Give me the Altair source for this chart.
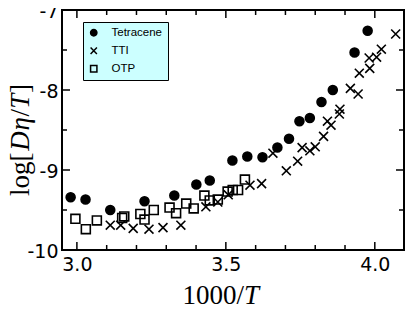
import altair as alt
import pandas as pd

# ---- data ----
series_names = ["Tetracene", "TTI", "OTP"]

tet_x = [2.979, 3.029, 3.112, 3.227, 3.327, 3.401, 3.446, 3.522, 3.572, 3.623,
         3.673, 3.712, 3.747, 3.782, 3.821, 3.859, 3.932, 3.976]
tet_y = [-9.34, -9.37, -9.50, -9.39, -9.32, -9.18, -9.13, -8.88, -8.83, -8.84,
         -8.72, -8.61, -8.39, -8.35, -8.15, -8.00, -7.53, -7.26]

tti_x = [3.112, 3.147, 3.189, 3.242, 3.289, 3.349, 3.433, 3.473, 3.508, 3.581,
         3.620, 3.658, 3.703, 3.741, 3.756, 3.782, 3.800, 3.828, 3.841, 3.853,
         3.881, 3.883, 3.918, 3.944, 3.948, 3.981, 3.983, 4.006, 4.022, 4.070]
tti_y = [-9.69, -9.69, -9.73, -9.74, -9.72, -9.69, -9.46, -9.40, -9.31, -9.19,
         -9.17, -8.79, -9.01, -8.89, -8.72, -8.76, -8.71, -8.58, -8.39, -8.44,
         -8.30, -8.24, -7.98, -8.05, -7.79, -7.60, -7.73, -7.59, -7.49, -7.30]

otp_x = [2.995, 3.030, 3.067, 3.152, 3.159, 3.213, 3.227, 3.258, 3.311, 3.333,
         3.367, 3.392, 3.428, 3.446, 3.473, 3.506, 3.523, 3.541, 3.564]
otp_y = [-9.61, -9.74, -9.63, -9.60, -9.58, -9.55, -9.62, -9.50, -9.47, -9.54,
         -9.42, -9.48, -9.32, -9.38, -9.37, -9.27, -9.25, -9.25, -9.12]

x_major = [3.0, 3.5, 4.0]
x_minor = [3.1, 3.2, 3.3, 3.4, 3.6, 3.7, 3.8, 3.9]
y_major = [-10, -9, -8, -7]
y_minor = [-9.5, -8.5, -7.5]

x_domain = [2.95, 4.098]
y_domain = [-10, -7]

x_title = ["1000/", "T"]
y_title = ["log[", "D", "\u03b7", "/", "T", "]"]

# ---- build table ----
df = pd.concat([
    pd.DataFrame({"x": tet_x, "y": tet_y, "series": "Tetracene"}),
    pd.DataFrame({"x": tti_x, "y": tti_y, "series": "TTI"}),
    pd.DataFrame({"x": otp_x, "y": otp_y, "series": "OTP"}),
], ignore_index=True)

W, H = 342, 240
xs = alt.Scale(domain=x_domain, nice=False, zero=False)
ys = alt.Scale(domain=y_domain, nice=False, zero=False)

xaxis = alt.Axis(values=x_major, format=".1f", ticks=False, domain=False, grid=False,
                 labelFont="DejaVu Sans", labelFontSize=19, labelColor="black",
                 labelPadding=5, title=None)
yaxis = alt.Axis(values=y_major, labelExpr="'' + datum.value", ticks=False, domain=False,
                 grid=False, labelFont="DejaVu Sans", labelFontSize=19,
                 labelColor="black", labelPadding=4, labelOffset=1.5, title=None)

legend = alt.Legend(orient="none", legendX=21, legendY=12, fillColor="#ccffff",
                    strokeColor="black", padding=5, labelFont="Liberation Sans",
                    labelFontSize=11.5, labelColor="black", symbolSize=40,
                    symbolStrokeWidth=1.5, rowPadding=5, labelOffset=12, title=None)

points = alt.Chart(df).mark_point(strokeWidth=1.6, opacity=1, size=80).encode(
    x=alt.X("x:Q", scale=xs, axis=xaxis),
    y=alt.Y("y:Q", scale=ys, axis=yaxis),
    shape=alt.Shape("series:N", sort=series_names,
                    scale=alt.Scale(domain=series_names,
                                    range=["circle", "M-1,-1L1,1M-1,1L1,-1", "square"]),
                    legend=legend),
    fill=alt.Fill("series:N", sort=series_names,
                  scale=alt.Scale(domain=series_names,
                                  range=["black", "transparent", "transparent"]),
                  legend=legend),
    stroke=alt.Stroke("series:N", sort=series_names,
                      scale=alt.Scale(domain=series_names,
                                      range=["black", "black", "black"]),
                      legend=legend),
)

def tick_layer(vals, side, length):
    d = pd.DataFrame({"v": vals})
    base = alt.Chart(d).mark_rule(color="black", strokeWidth=1.5)
    if side in ("bottom", "top"):
        xe = alt.X("v:Q", scale=xs, axis=xaxis)
        if side == "bottom":
            return base.encode(x=xe, y=alt.value(H), y2=alt.value(H - length))
        return base.encode(x=xe, y=alt.value(0), y2=alt.value(length))
    ye = alt.Y("v:Q", scale=ys, axis=yaxis)
    if side == "left":
        return base.encode(y=ye, x=alt.value(0), x2=alt.value(length))
    return base.encode(y=ye, x=alt.value(W), x2=alt.value(W - length))

ticks = []
for side in ("bottom", "top"):
    ticks.append(tick_layer(x_major, side, 8))
    ticks.append(tick_layer(x_minor, side, 5))
for side in ("left", "right"):
    ticks.append(tick_layer(y_major, side, 8))
    ticks.append(tick_layer(y_minor, side, 5))

one = pd.DataFrame({"a": [0]})
serif = "Liberation Serif"

# x title: "1000/" roman + "T" italic
xt1 = alt.Chart(one).mark_text(text=x_title[0], font=serif, fontSize=27, align="right",
                               baseline="alphabetic", color="black").encode(
    x=alt.value(182), y=alt.value(294))
xt2 = alt.Chart(one).mark_text(text=x_title[1], font=serif, fontSize=27, align="left",
                               fontStyle="italic", baseline="alphabetic", color="black").encode(
    x=alt.value(182), y=alt.value(294))

# y title pieces, rotated, reading upward
fs = 27
widths = [1.611, 0.722, 0.5, 0.278, 0.556, 0.333]
italic = [False, True, True, False, True, False]
ypos = 186
ylayers = []
for txt, wem, it in zip(y_title, widths, italic):
    kw = dict(text=txt, font=serif, fontSize=fs, align="left", baseline="alphabetic",
              angle=270, color="black")
    if it:
        kw["fontStyle"] = "italic"
    ylayers.append(alt.Chart(one).mark_text(**kw).encode(x=alt.value(-33), y=alt.value(ypos)))
    ypos -= wem * fs * 1.04

chart = alt.layer(*ticks, points, xt1, xt2, *ylayers).properties(
    width=W, height=H,
    autosize=alt.AutoSizeParams(type="none"),
    padding={"left": 54, "top": 2, "right": 2, "bottom": 61},
).configure_view(stroke="black", strokeWidth=2)

chart.save("out.html", embed_options={"renderer": "svg", "actions": False})
